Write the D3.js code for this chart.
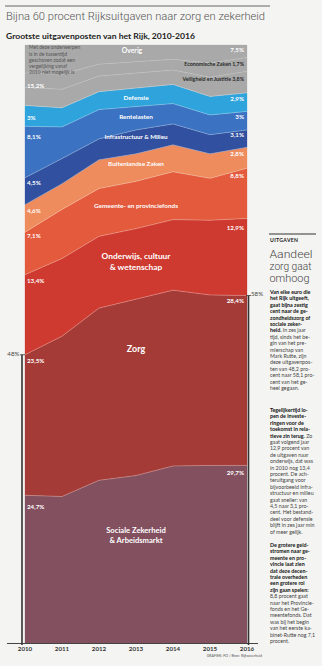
<!DOCTYPE html>
<html><head><meta charset="utf-8">
<script src="https://cdn.jsdelivr.net/npm/d3@7"></script>
<style>body{margin:0;background:#f4f4f2}svg{display:block}</style>
</head><body><svg id="c" width="322" height="666"></svg>
<script>
// ---------- DATA (share of total Rijksuitgaven, %) ----------
const years      = [2010, 2011, 2012, 2013, 2014, 2015, 2016];
const sociaal    = [24.7, 24.5, 27.2, 28.0, 29.6, 29.7, 29.7];
const zorg       = [23.5, 26.8, 28.8, 29.5, 29.4, 28.5, 28.4];
const onderwijs  = [13.4, 13.0, 12.0, 11.8, 11.8, 12.5, 12.9];
const gemeente   = [7.1, 8.2, 8.0, 7.9, 8.0, 7.0, 8.4];
const buitenland = [4.6, 4.3, 4.8, 4.6, 4.5, 4.1, 3.5];
const infra      = [4.5, 4.2, 3.5, 4.0, 3.5, 3.2, 2.9];
const rente      = [8.6, 5.3, 4.9, 3.9, 3.4, 3.3, 3.1];
const defensie   = [3.5, 3.2, 3.0, 3.1, 3.2, 3.1, 3.1];
const veiligheid = [3.0, 3.1, 2.6, 2.5, 2.4, 3.2, 3.6];
const economie   = [2.4, 2.5, 2.0, 1.9, 1.8, 2.4, 2.3];
const overig     = [4.7, 4.9, 3.2, 2.8, 2.4, 3.0, 2.1];

const categories = ["Sociale Zekerheid & Arbeidsmarkt", "Zorg", "Onderwijs, cultuur & wetenschap",
  "Gemeente- en provinciefonds", "Buitenlandse Zaken", "Infrastructuur & Milieu", "Rentelasten",
  "Defensie", "Veiligheid en Justitie", "Economische Zaken", "Overig"];
const labels2010 = ["24,7%", "23,5%", "13,4%", "7,1%", "4,6%", "4,5%", "8,1%", "3%", "15,2%"];
const labels2016 = ["29,7%", "28,4%", "12,9%", "8,8%", "2,8%", "3,1%", "3%", "2,9%",
  "Veiligheid en Justitie 3,8%", "Economische Zaken 1,7%", "7,5%"];
const tickLabels = ["2010", "2011", "2012", "2013", "2014", "2015", "2016"];

// ---------- build ----------
const series = [sociaal, zorg, onderwijs, gemeente, buitenland, infra, rente, defensie, veiligheid, economie, overig];
const keys = ["sociaal","zorg","onderwijs","gemeente","buitenland","infra","rente","defensie","veiligheid","economie","overig"];
const colors = ["#83505f","#a53b36","#ce3a2f","#e35a3c","#ef8c5d","#31509f","#3b72c2","#2ea3dc","#a9a9a9","#a9a9a9","#a9a9a9"];
const rows = years.map((yr, i) => { const r = {year: yr}; keys.forEach((k, j) => r[k] = series[j][i]); return r; });

const svg = d3.select("#c");
const x = d3.scaleLinear().domain(d3.extent(years)).range([25, 247]);
const y = d3.scaleLinear().domain([0, 100]).range([643, 45]);
const stack = d3.stack().keys(keys)(rows);

const FONT = "Lato, 'Open Sans', sans-serif";
function txt(g, px, py, s, o = {}) {
  const size = o.size || 6;
  const t = g.append("text").attr("x", px).attr("y", py + size * 0.35)
    .attr("font-family", o.family || FONT).attr("font-size", size)
    .attr("font-weight", o.weight || 400).attr("fill", o.fill || "#333")
    .attr("text-anchor", o.anchor || "start").text(s);
  if (o.len) t.attr("textLength", o.len).attr("lengthAdjust", "spacingAndGlyphs");
  if (o.ls) t.attr("letter-spacing", o.ls);
  return t;
}

// header
svg.append("line").attr("x1", 5).attr("x2", 270).attr("y1", 6).attr("y2", 6).attr("stroke", "#666").attr("stroke-width", 1);
svg.append("text").attr("x", 6).attr("y", 19.7).attr("font-family", "Roboto, sans-serif").attr("font-weight", 300)
  .attr("font-size", 10.5).attr("fill", "#555").attr("textLength", 259).attr("lengthAdjust", "spacingAndGlyphs")
  .text("Bijna 60 procent Rijksuitgaven naar zorg en zekerheid");
svg.append("text").attr("x", 6).attr("y", 38.5).attr("font-family", FONT).attr("font-weight", 700)
  .attr("font-size", 7.6).attr("fill", "#222").attr("textLength", 189).attr("lengthAdjust", "spacingAndGlyphs")
  .text("Grootste uitgavenposten van het Rijk,  2010-2016");

// areas
const area = d3.area().x(d => x(d.data.year)).y0(d => y(d[0])).y1(d => y(d[1]));
const gA = svg.append("g");
gA.selectAll("path").data(stack).join("path").attr("d", area)
  .attr("fill", (d, i) => colors[i]).attr("stroke", (d, i) => colors[i]).attr("stroke-width", 0.3);
const line = d3.line().x(d => x(d.data.year)).y(d => y(d[1]));
gA.selectAll("path.b").data(stack.slice(0, -1)).join("path").attr("class", "b").attr("d", line)
  .attr("fill", "none").attr("stroke", (d, i) => i >= 8 ? "rgba(255,255,255,0.22)" : "rgba(255,255,255,0.38)")
  .attr("stroke-width", 0.7);

// in-area labels
const gL = svg.append("g");
const inLabels = [
  {k: 0, yr: 2013, f: 0.64, lines: ["Sociale Zekerheid", "& Arbeidsmarkt"], size: 7.6, lh: 10},
  {k: 1, yr: 2013, f: 0.72, lines: ["Zorg"], size: 9},
  {k: 2, yr: 2013, f: 0.53, lines: ["Onderwijs, cultuur", "& wetenschap"], size: 8.4, lh: 10.5},
  {k: 3, yr: 2013, f: 0.48, lines: ["Gemeente- en provinciefonds"], size: 6.4},
  {k: 4, yr: 2013, f: 0.63, lines: ["Buitenlandse Zaken"], size: 6.4},
  {k: 5, yr: 2013, f: 0.71, lines: ["Infrastructuur & Milieu"], size: 6.2},
  {k: 6, yr: 2013, f: 0.56, lines: ["Rentelasten"], size: 6.4},
  {k: 7, yr: 2013, f: 0.5, lines: ["Defensie"], size: 6.4},
  {k: 10, yr: 2013, f: 0.65, lines: ["Overig"], size: 6.8, dx: -4}
];
inLabels.forEach(l => {
  const i = years.indexOf(l.yr), d = stack[l.k][i];
  const cy = y(d[0] + l.f * (d[1] - d[0]));
  const n = l.lines.length, lh = l.lh || 8;
  l.lines.forEach((s, j) => txt(gL, x(l.yr) + (l.dx || 0), cy + (j - (n - 1) / 2) * lh, s,
    {size: l.size, weight: 700, fill: "#fff", anchor: "middle"}));
});

// left (2010) value labels
const leftDy = [12, 6, 6, 4, 6, 5, 11, 12, -2];
labels2010.forEach((s, i) => {
  const top = stack[i][0][1];
  txt(gL, 27, y(top) + leftDy[i], s, {size: 6.2, weight: 700, fill: "#fff"});
});
// right (2016) value labels
const rightDy = [7, 5, 9.5, 7.5, 6.5, 5, 5.5, 5.5, 7.5, 6.5, 4.5];
labels2016.forEach((s, i) => {
  const top = stack[i][years.length - 1][1];
  const dark = i === 8 || i === 9;
  txt(gL, 244, y(top) + rightDy[i], s, {size: dark ? 5.3 : 6.2, weight: 700, fill: dark ? "#2a2a2a" : "#fff", anchor: "end"});
});
// note in grey
["Met deze onderwerpen", "is in de tussentijd", "geschoven zodat een", "vergelijking vanaf", "2010 niet mogelijk is"]
  .forEach((s, j) => txt(gL, 29, 47.5 + j * 6.3, s, {size: 5, fill: "#555"}));

// axis
const gX = svg.append("g");
gX.append("line").attr("x1", 7).attr("x2", 258).attr("y1", 643.5).attr("y2", 643.5).attr("stroke", "#444").attr("stroke-width", 1);
years.forEach((yr, i) => txt(gX, x(yr), 649, tickLabels[i], {size: 6.2, weight: 700, fill: "#333", anchor: "middle"}));
txt(gX, 262, 655.5, "GRAFIEK: FD / Bron: Rijksoverheid", {size: 3.6, fill: "#555", anchor: "end"});

// brackets 48% / 58%
const yL = y(stack[1][0][1]), yR = y(stack[1][years.length - 1][1]);
gX.append("line").attr("x1", 22).attr("x2", 22).attr("y1", yL).attr("y2", 645).attr("stroke", "#333").attr("stroke-width", 1.6);
gX.append("line").attr("x1", 20).attr("x2", 25).attr("y1", yL).attr("y2", yL).attr("stroke", "#333").attr("stroke-width", 0.8);
txt(gX, 19.5, yL - 1, "48%", {size: 6.2, fill: "#444", anchor: "end"});
gX.append("line").attr("x1", 248.5).attr("x2", 248.5).attr("y1", yR).attr("y2", 645).attr("stroke", "#333").attr("stroke-width", 1.6);
gX.append("line").attr("x1", 246).attr("x2", 251).attr("y1", yR).attr("y2", yR).attr("stroke", "#333").attr("stroke-width", 0.8);
txt(gX, 251, yR - 2, "58%", {size: 6.2, fill: "#444"});

// ---------- article column ----------
const gT = svg.append("g");
gT.append("line").attr("x1", 269).attr("x2", 316).attr("y1", 234).attr("y2", 234).attr("stroke", "#333").attr("stroke-width", 1.2);
txt(gT, 270, 240, "UITGAVEN", {size: 5.2, weight: 700, fill: "#222", ls: 0.3});
[["Aandeel", 43], ["zorg gaat", 42], ["omhoog", 40]].forEach((a, j) =>
  txt(gT, 269.5, 254.5 + j * 12, a[0], {size: 10.2, family: "Roboto, sans-serif", weight: 300, fill: "#444", len: a[1]}));

function para(y0, lines) {
  lines.forEach((ln, j) => {
    const t = gT.append("text").attr("x", 270).attr("y", y0 + j * 6.4 + 1.9)
      .attr("font-family", FONT).attr("font-size", 5.3).attr("fill", "#333");
    ln.forEach(seg => t.append("tspan").attr("font-weight", seg[1] ? 700 : 400).attr("fill", seg[1] ? "#111" : "#444").text(seg[0]));
  });
}
const B = s => [[s, 1]], N = s => [[s, 0]];
para(292, [B("Van elke euro die"), B("het Rijk uitgeeft,"), B("gaat bijna zestig"), B("cent naar de ge-"),
  B("zondheidszorg of"), B("sociale zeker-"), [["heid.", 1], [" In zes jaar", 0]], N("tijd, sinds het be-"),
  N("gin van het pre-"), N("mierschap van"), N("Mark Rutte, zijn"), N("deze uitgavenpos-"),
  N("ten van 48,2 pro-"), N("cent naar 58,1 pro-"), N("cent van het ge-"), N("heel gegaan.")]);
para(410, [B("Tegelijkertijd lo-"), B("pen de investe-"), B("ringen voor de"), B("toekomst in rela-"),
  [["tieve zin terug.", 1], [" Zo", 0]], N("gaat volgend jaar"), N("12,9 procent van"), N("de uitgaven naar"),
  N("onderwijs, dat was"), N("in 2010 nog 13,4"), N("procent. De ach-"), N("teruitgang voor"),
  N("bijvoorbeeld infra-"), N("structuur en milieu"), N("gaat sneller: van"), N("4,5 naar 3,1 pro-"),
  N("cent. Het bestand-"), N("deel voor defensie"), N("blijft in zes jaar min"), N("of meer gelijk.")]);
para(545, [B("De grotere geld-"), B("stromen naar ge-"), B("meente en pro-"), B("vincie laat zien"),
  B("dat deze decen-"), B("trale overheden"), B("een grotere rol"), B("zijn gaan spelen:"),
  N("8,8 procent gaat"), N("naar het Provincie-"), N("fonds en het Ge-"), N("meentefonds. Dat"),
  N("was bij het begin"), N("van het eerste ka-"), N("binet-Rutte nog 7,1"), N("procent.")]);
</script></body></html>
